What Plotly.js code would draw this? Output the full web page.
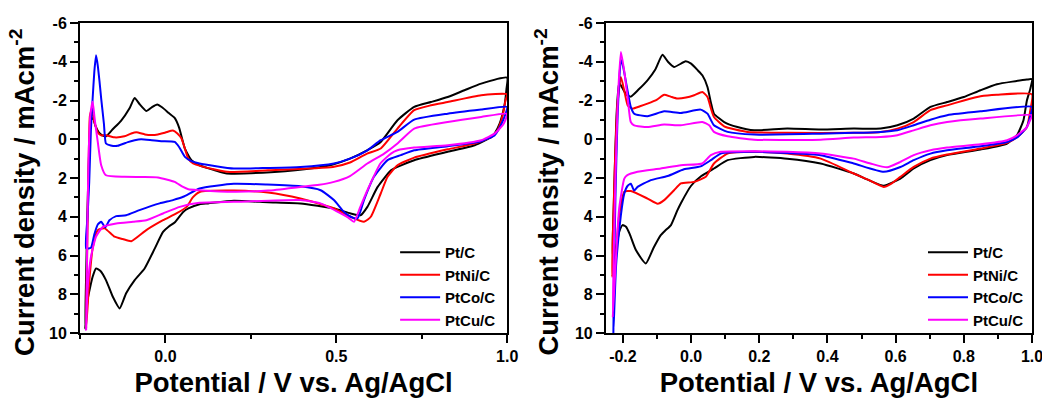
<!DOCTYPE html>
<html>
<head>
<meta charset="utf-8">
<script src="https://cdn.plot.ly/plotly-3.0.1.min.js"></script>
<style>html,body{margin:0;padding:0;background:#fff;}#chart{width:1042px;height:398px;}</style>
</head>
<body>
<div id="chart"></div>
<script>
// ---------- Categories / labels ----------
const seriesNames = ['Pt/C', 'PtNi/C', 'PtCo/C', 'PtCu/C'];
const seriesColors = ['#000000', '#ff0000', '#0000ff', '#ff00ff'];
const yTickVals = [-6, -4, -2, 0, 2, 4, 6, 8, 10];
const yTickText = ['-6', '-4', '-2', '0', '2', '4', '6', '8', '10'];
const leftXTickVals = [0, 0.5, 1.0];
const leftXTickText = ['0.0', '0.5', '1.0'];
const rightXTickVals = [-0.2, 0, 0.2, 0.4, 0.6, 0.8, 1.0];
const rightXTickText = ['-0.2', '0.0', '0.2', '0.4', '0.6', '0.8', '1.0'];

// ---------- Data (left panel): anodic branch then cathodic branch ----------
const leftPtC_V = [-0.235,-0.232,-0.228,-0.223,-0.218,-0.212,-0.205,-0.195,-0.185,-0.174,-0.155,-0.13,-0.105,-0.09,-0.075,-0.056,-0.04,-0.024,-0.01,0.01,0.027,0.04,0.057,0.076,0.1,0.145,0.18,0.25,0.35,0.45,0.49,0.54,0.59,0.63,0.679,0.728,0.777,0.826,0.875,0.924,1.0,
  0.998,0.993,0.985,0.978,0.965,0.954,0.905,0.826,0.728,0.679,0.66,0.621,0.591,0.571,0.542,0.493,0.395,0.3,0.2,0.125,0.1,0.067,0.052,0.027,0.01,-0.007,-0.031,-0.061,-0.09,-0.115,-0.134,-0.154,-0.174,-0.19,-0.203,-0.213,-0.228,-0.235];
const leftPtC_J = [9.8,7.0,3.5,0.5,-1.0,-1.1,-0.7,-0.35,-0.2,-0.15,-0.5,-0.95,-1.6,-2.13,-1.8,-1.46,-1.65,-1.79,-1.65,-1.35,-1.1,-0.6,0.48,1.08,1.35,1.6,1.77,1.75,1.65,1.45,1.3,1.0,0.57,0.14,-0.98,-1.67,-1.92,-2.18,-2.53,-2.87,-3.18,
  -2.6,-1.84,-1.2,-0.81,-0.35,-0.12,0.31,0.65,1.08,1.43,1.6,2.46,3.49,3.92,3.83,3.57,3.31,3.25,3.18,3.31,3.35,3.57,3.75,4.3,4.5,4.78,5.63,6.67,7.27,7.95,8.73,8.13,7.27,6.8,6.67,7.1,8.3,9.8];

const leftPtNi_V = [-0.232,-0.23,-0.227,-0.224,-0.221,-0.216,-0.208,-0.198,-0.188,-0.178,-0.15,-0.12,-0.1,-0.085,-0.06,-0.04,-0.022,0.0,0.022,0.035,0.047,0.067,0.081,0.106,0.18,0.3,0.49,0.54,0.59,0.63,0.679,0.728,0.777,0.826,0.924,1.0,
  0.995,0.99,0.983,0.97,0.954,0.905,0.826,0.728,0.679,0.65,0.63,0.601,0.581,0.542,0.493,0.395,0.3,0.2,0.1,0.08,0.062,0.032,-0.007,-0.056,-0.1,-0.125,-0.149,-0.178,-0.198,-0.213,-0.223,-0.232];
const leftPtNi_J = [9.76,7.0,3.5,0.5,-1.2,-1.5,-0.9,-0.35,-0.2,-0.22,-0.1,-0.15,-0.3,-0.36,-0.25,-0.22,-0.25,-0.35,-0.45,-0.3,-0.04,1.0,1.25,1.4,1.68,1.6,1.43,1.2,0.74,0.48,-0.55,-1.5,-1.75,-1.92,-2.27,-2.32,
  -2.0,-1.5,-0.98,-0.4,-0.12,0.22,0.52,0.95,1.34,1.94,2.8,4.0,4.26,4.0,3.57,3.06,2.75,2.65,2.72,3.0,3.49,3.83,4.18,4.69,5.26,5.15,5.03,4.6,4.69,5.63,7.35,9.76];

const leftPtCo_V = [-0.232,-0.228,-0.223,-0.218,-0.213,-0.208,-0.203,-0.198,-0.193,-0.188,-0.18,-0.174,-0.16,-0.14,-0.11,-0.09,-0.071,-0.04,-0.012,0.027,0.04,0.057,0.076,0.1,0.2,0.3,0.395,0.493,0.54,0.591,0.63,0.679,0.728,0.826,0.924,1.0,
  0.995,0.988,0.975,0.963,0.924,0.826,0.728,0.689,0.65,0.61,0.581,0.562,0.542,0.522,0.493,0.454,0.395,0.297,0.2,0.1,0.052,0.022,-0.017,-0.076,-0.115,-0.144,-0.164,-0.176,-0.188,-0.198,-0.208,-0.218,-0.232];
const leftPtCo_J = [5.63,4.0,2.2,-0.5,-2.1,-3.5,-4.33,-3.8,-3.0,-2.1,-0.8,0.22,0.32,0.34,0.15,0.05,0.0,0.05,0.1,0.14,0.4,0.91,1.13,1.25,1.51,1.48,1.43,1.25,1.0,0.57,0.05,-0.38,-1.01,-1.32,-1.53,-1.67,
  -1.3,-0.98,-0.5,-0.2,0.1,0.36,0.57,0.82,1.08,1.94,3.14,4.09,4.0,3.74,3.14,2.63,2.43,2.34,2.3,2.54,2.97,3.14,3.31,3.66,3.92,3.97,4.18,4.55,4.26,4.4,4.9,5.6,5.63];

const leftPtCu_V = [-0.232,-0.23,-0.228,-0.225,-0.22,-0.213,-0.208,-0.203,-0.198,-0.188,-0.174,-0.12,-0.07,-0.022,0.027,0.05,0.067,0.1,0.2,0.3,0.395,0.45,0.493,0.54,0.591,0.64,0.679,0.728,0.826,0.924,1.0,
  0.995,0.988,0.963,0.924,0.826,0.728,0.679,0.66,0.629,0.591,0.57,0.552,0.535,0.513,0.454,0.395,0.2,0.1,0.042,-0.007,-0.056,-0.095,-0.144,-0.183,-0.203,-0.218,-0.228,-0.232];
const leftPtCu_J = [9.85,7.0,4.0,1.0,-1.2,-1.95,-1.2,-0.5,0.14,1.34,1.86,1.94,1.95,1.97,2.2,2.45,2.58,2.63,2.71,2.65,2.46,2.35,2.2,1.9,1.25,0.74,0.22,-0.55,-0.89,-1.15,-1.32,
  -1.0,-0.75,-0.29,0.05,0.31,0.43,0.57,0.74,1.25,2.63,3.5,4.26,4.05,3.83,3.31,3.14,3.23,3.28,3.49,3.83,4.18,4.26,4.35,4.52,5.03,6.07,7.78,9.85];

// ---------- Data (right panel) ----------
const rightPtC_V = [-0.23,-0.227,-0.223,-0.218,-0.211,-0.2,-0.19,-0.177,-0.155,-0.128,-0.105,-0.084,-0.068,-0.05,-0.016,0.0,0.02,0.033,0.048,0.058,0.067,0.097,0.136,0.185,0.282,0.38,0.477,0.556,0.605,0.653,0.702,0.751,0.8,0.849,0.897,0.985,1.0,
  0.995,0.985,0.975,0.956,0.927,0.849,0.751,0.702,0.653,0.614,0.565,0.52,0.477,0.38,0.282,0.185,0.107,0.067,0.03,0.0,-0.03,-0.04,-0.059,-0.075,-0.089,-0.11,-0.133,-0.162,-0.18,-0.191,-0.201,-0.211,-0.22,-0.23];
const rightPtC_J = [6.0,3.5,1.0,-1.5,-2.9,-2.6,-2.3,-2.2,-2.55,-3.04,-3.6,-4.36,-4.0,-3.73,-4.02,-3.9,-3.55,-3.3,-2.7,-1.9,-1.32,-0.89,-0.63,-0.46,-0.55,-0.5,-0.55,-0.55,-0.72,-1.07,-1.67,-1.92,-2.18,-2.53,-2.84,-3.08,-3.1,
  -2.6,-2.0,-0.98,-0.21,0.22,0.53,0.82,1.08,1.51,2.03,2.4,2.1,1.77,1.25,1.0,0.91,1.08,1.51,1.9,2.4,3.3,3.66,4.43,4.7,4.95,5.6,6.41,5.72,4.9,4.52,4.43,4.78,5.6,6.0];

const rightPtNi_V = [-0.232,-0.228,-0.223,-0.216,-0.206,-0.196,-0.186,-0.172,-0.15,-0.128,-0.1,-0.079,-0.06,-0.04,-0.015,0.009,0.033,0.048,0.058,0.067,0.097,0.165,0.282,0.477,0.556,0.605,0.653,0.702,0.751,0.8,0.849,0.897,1.0,
  0.995,0.985,0.956,0.927,0.849,0.751,0.702,0.653,0.614,0.585,0.565,0.52,0.477,0.38,0.282,0.185,0.107,0.067,0.043,0.009,-0.03,-0.05,-0.079,-0.098,-0.128,-0.177,-0.196,-0.211,-0.22,-0.232];
const rightPtNi_J = [7.1,4.0,1.0,-1.8,-3.21,-2.5,-1.75,-1.58,-1.7,-1.84,-2.05,-2.3,-2.2,-2.1,-2.15,-2.27,-2.44,-2.18,-1.6,-1.15,-0.67,-0.38,-0.33,-0.33,-0.38,-0.55,-0.89,-1.5,-1.75,-2.0,-2.22,-2.3,-2.32,
  -1.5,-0.63,-0.1,0.19,0.48,0.79,1.0,1.43,1.94,2.32,2.46,2.1,1.77,1.0,0.74,0.65,0.74,1.25,1.94,2.2,2.28,2.63,3.14,3.33,3.06,2.67,2.71,3.92,5.63,7.1];

const rightPtCo_V = [-0.228,-0.226,-0.222,-0.216,-0.211,-0.206,-0.2,-0.191,-0.177,-0.167,-0.128,-0.079,-0.03,0.028,0.048,0.067,0.107,0.185,0.38,0.477,0.556,0.605,0.653,0.702,0.751,0.849,1.0,
  0.995,0.985,0.956,0.927,0.849,0.751,0.702,0.653,0.614,0.565,0.477,0.38,0.282,0.185,0.087,0.058,0.028,-0.021,-0.069,-0.118,-0.157,-0.167,-0.177,-0.186,-0.196,-0.206,-0.22,-0.228];
const rightPtCo_J = [10.0,7.0,3.0,-1.0,-3.0,-4.1,-3.8,-2.95,-1.67,-1.32,-1.19,-1.44,-1.36,-1.53,-1.32,-0.72,-0.38,-0.24,-0.29,-0.33,-0.38,-0.46,-0.72,-1.01,-1.24,-1.44,-1.67,
  -1.2,-0.63,-0.09,0.14,0.36,0.57,0.74,1.08,1.43,1.68,1.25,0.82,0.71,0.65,0.74,1.08,1.4,1.55,1.9,2.11,2.46,2.65,2.3,2.4,2.8,3.92,6.5,10.0];

const rightPtCu_V = [-0.23,-0.227,-0.222,-0.215,-0.206,-0.196,-0.186,-0.177,-0.167,-0.128,-0.079,-0.03,0.033,0.053,0.067,0.107,0.185,0.38,0.477,0.556,0.605,0.653,0.702,0.751,0.849,1.0,
  0.995,0.985,0.956,0.927,0.849,0.751,0.702,0.653,0.614,0.575,0.526,0.477,0.38,0.282,0.185,0.087,0.058,0.033,-0.03,-0.089,-0.157,-0.187,-0.196,-0.211,-0.22,-0.23];
const rightPtCu_J = [9.2,6.0,2.0,-2.0,-4.5,-3.5,-2.1,-0.89,-0.72,-0.63,-0.76,-0.72,-0.89,-0.72,-0.38,-0.15,0.02,0.02,-0.09,-0.12,-0.21,-0.46,-0.72,-0.89,-1.07,-1.24,
  -1.0,-0.63,-0.2,0.05,0.26,0.43,0.57,0.82,1.17,1.45,1.25,1.0,0.74,0.65,0.62,0.65,0.82,1.25,1.34,1.51,1.68,1.85,2.03,3.57,5.98,9.2];

const leftV = [leftPtC_V, leftPtNi_V, leftPtCo_V, leftPtCu_V];
const leftJ = [leftPtC_J, leftPtNi_J, leftPtCo_J, leftPtCu_J];
const rightV = [rightPtC_V, rightPtNi_V, rightPtCo_V, rightPtCu_V];
const rightJ = [rightPtC_J, rightPtNi_J, rightPtCo_J, rightPtCu_J];

// ---------- Traces ----------
const traces = [];
for (let i = 0; i < 4; i++) {
  traces.push({x: leftV[i], y: leftJ[i], xaxis: 'x', yaxis: 'y', name: seriesNames[i], legend: 'legend',
    mode: 'lines', line: {color: seriesColors[i], width: 2, shape: 'spline', smoothing: 0.5}});
}
for (let i = 0; i < 4; i++) {
  traces.push({x: rightV[i], y: rightJ[i], xaxis: 'x2', yaxis: 'y2', name: seriesNames[i], legend: 'legend2',
    mode: 'lines', line: {color: seriesColors[i], width: 2, shape: 'spline', smoothing: 0.5}});
}

const FONT = 'Liberation Sans, Arial, sans-serif';
const tickFont = {family: FONT, size: 16, color: '#000', weight: 'bold'};
const titleFont = {family: FONT, size: 27.5, color: '#000', weight: 'bold'};
const yTitle = 'Current density / mAcm<sup>-2</sup>';
const xTitle = 'Potential / V vs. Ag/AgCl';

function xAxis(domain, tickvals, ticktext, minorDtick, anchor) {
  return {domain: domain, anchor: anchor, range: [-0.25, 1.0], tickmode: 'array', tickvals: tickvals, ticktext: ticktext,
    ticklabeloverflow: 'allow',
    ticks: 'outside', ticklen: 8, tickwidth: 2, tickcolor: '#000', showline: true, linewidth: 2, linecolor: '#000',
    mirror: true, showgrid: false, zeroline: false, tickfont: tickFont,
    minor: {ticks: 'outside', tickmode: 'linear', dtick: minorDtick, tick0: 0, ticklen: 4, tickwidth: 2, tickcolor: '#000', showgrid: false},
    title: {text: xTitle, font: titleFont, standoff: 17}};
}
function yAxis(anchor) {
  return {anchor: anchor, domain: [0, 1], range: [10, -6], tickmode: 'array', tickvals: yTickVals, ticktext: yTickText,
    ticks: 'outside', ticklen: 8, tickwidth: 2, tickcolor: '#000', showline: true, linewidth: 2, linecolor: '#000',
    mirror: true, showgrid: false, zeroline: false, tickfont: tickFont,
    minor: {ticks: 'outside', tickmode: 'linear', tick0: 0, dtick: 1, ticklen: 4, tickwidth: 2, tickcolor: '#000', showgrid: false}};
}

const legendBase = {font: {family: FONT, size: 15, color: '#000', weight: 'bold'}, bgcolor: 'rgba(0,0,0,0)',
  borderwidth: 0, xanchor: 'left', yanchor: 'top', tracegroupgap: 0, itemwidth: 40};

const yTitleAnn = (xp) => ({text: yTitle, xref: 'paper', yref: 'paper', x: xp, y: 0.4533, xanchor: 'center', yanchor: 'middle',
  textangle: -90, showarrow: false, font: titleFont});

const layout = {
  width: 1042, height: 398,
  margin: {l: 80, r: 10, t: 23, b: 65},
  paper_bgcolor: '#fff', plot_bgcolor: '#fff',
  showlegend: true,
  xaxis: xAxis([0, 0.4487], leftXTickVals, leftXTickText, 0.25, 'y'),
  yaxis: yAxis('x'),
  xaxis2: xAxis([0.5524, 1], rightXTickVals, rightXTickText, 0.1, 'y2'),
  yaxis2: yAxis('x2'),
  legend: Object.assign({}, legendBase, {x: 0.331, y: 0.313}),
  legend2: Object.assign({}, legendBase, {x: 0.8855, y: 0.313}),
  annotations: [yTitleAnn(-0.0604), yTitleAnn(0.4907)]
};

Plotly.newPlot('chart', traces, layout, {staticPlot: true, displayModeBar: false});
</script>
</body>
</html>
